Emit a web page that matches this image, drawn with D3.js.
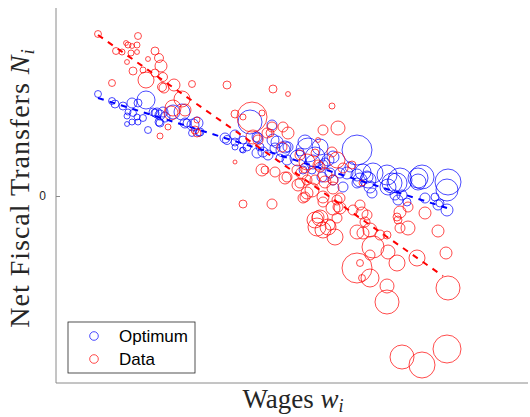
<!DOCTYPE html>
<html>
<head>
<meta charset="utf-8">
<script src="https://cdn.jsdelivr.net/npm/d3@7"></script>
<style>
    body { margin: 0; background: #fff; }
    #chart { width: 530px; height: 417px; }
    .axis-line { stroke: #8a8a8a; stroke-width: 1; }
    .tick-label { font-family: Arial, "Liberation Sans", sans-serif; font-size: 12px; fill: #262626; }
    .ax-title { font-family: "Liberation Serif", "Times New Roman", serif; font-size: 27px; fill: #262626; }
    .legend-text { font-family: Arial, "Liberation Sans", sans-serif; font-size: 17px; fill: #000; }
</style>
</head>
<body>
<div id="chart"></div>
<script>

// regions: [wage, net fiscal transfer, population]
let optimum = [
    [0.42, 1.02, 12], [0.56, 0.95, 12], [0.59, 0.92, 16], [0.67, 0.90, 16], [0.76, 0.93, 25],
    [0.82, 0.93, 16], [0.90, 0.96, 81], [0.72, 0.84, 9], [0.71, 0.80, 9], [0.77, 0.83, 12],
    [0.81, 0.79, 9], [0.76, 0.74, 9], [0.71, 0.72, 6], [0.82, 0.74, 9], [0.87, 0.78, 12],
    [0.92, 0.66, 12], [0.97, 0.84, 16], [1.01, 0.83, 25], [1.04, 0.81, 25], [1.09, 0.79, 25],
    [1.04, 0.73, 16], [1.07, 0.84, 25], [1.17, 0.84, 49], [1.26, 0.84, 64], [1.29, 0.73, 25],
    [1.37, 0.71, 36], [1.41, 0.73, 36], [1.36, 0.63, 12], [1.44, 0.64, 16], [1.69, 0.58, 25],
    [1.79, 0.54, 16], [1.87, 0.56, 16], [1.87, 0.46, 9], [1.94, 0.74, 144], [2.02, 0.58, 25],
    [2.16, 0.71, 25], [2.21, 0.54, 36], [2.29, 0.49, 36], [2.01, 0.43, 25], [2.12, 0.41, 25],
    [1.91, 0.49, 16], [2.07, 0.44, 25], [2.17, 0.56, 36], [2.19, 0.48, 25], [2.27, 0.46, 49],
    [2.32, 0.49, 25], [2.24, 0.38, 16], [2.31, 0.36, 25], [2.42, 0.38, 64], [2.52, 0.46, 144],
    [2.64, 0.49, 64], [2.57, 0.34, 49], [2.67, 0.31, 25], [2.72, 0.36, 36], [2.74, 0.23, 25],
    [2.77, 0.16, 25], [2.84, 0.23, 25], [2.87, 0.09, 25], [2.66, 0.19, 25], [2.56, 0.26, 16],
    [2.47, 0.26, 16], [2.49, 0.54, 49], [2.44, 0.44, 16], [2.59, 0.39, 100], [3.01, 0.46, 225],
    [2.77, 0.39, 36], [2.69, 0.33, 25], [2.94, 0.29, 25], [3.01, 0.21, 36], [3.11, 0.19, 36],
    [3.17, 0.23, 100], [3.31, 0.21, 100], [3.44, 0.16, 144], [3.62, 0.18, 100], [3.66, 0.19, 144],
    [3.92, 0.14, 169], [3.91, 0.06, 121], [3.36, 0.13, 100], [3.12, 0.16, 64], [3.07, 0.24, 64],
    [3.04, 0.16, 49], [3.14, 0.09, 36], [3.16, 0.03, 25], [3.01, 0.13, 25], [2.91, 0.23, 36],
    [3.32, 0.09, 64], [3.41, 0.13, 100], [3.46, 0.01, 25], [3.42, -0.04, 25], [3.51, -0.06, 16],
    [3.69, -0.02, 25], [3.82, -0.09, 25], [3.91, -0.14, 36], [3.84, -0.07, 16], [3.62, 0.14, 64],
    [1.79, 0.61, 25], [2.01, 0.59, 25], [2.04, 0.49, 16], [1.86, 0.46, 6], [1.79, 0.49, 9],
    [1.71, 0.56, 20], [1.43, 0.63, 12], [1.03, 0.74, 16], [0.99, 0.83, 16], [1.31, 0.73, 16],
    [3.39, 0.01, 25], [3.79, -0.01, 16]
];

let data = [
    [0.42, 1.62, 12], [0.82, 1.60, 12], [0.70, 1.53, 6], [0.72, 1.51, 9], [0.76, 1.50, 6],
    [0.81, 1.51, 9], [0.60, 1.45, 12], [0.66, 1.44, 9], [0.75, 1.43, 9], [0.81, 1.44, 6],
    [0.99, 1.45, 16], [0.71, 1.34, 6], [1.03, 1.38, 20], [0.92, 1.37, 6], [1.05, 1.30, 36],
    [0.77, 1.25, 16], [0.87, 1.26, 9], [0.99, 1.23, 16], [0.90, 1.16, 64], [1.07, 1.19, 20],
    [1.06, 1.09, 20], [1.08, 1.08, 25], [1.18, 1.11, 36], [1.36, 1.12, 12], [0.56, 1.13, 12],
    [1.71, 1.11, 16], [1.26, 0.97, 64], [1.15, 0.83, 49], [1.29, 0.86, 36], [1.41, 0.76, 9],
    [1.41, 0.63, 16], [1.04, 0.60, 9], [1.12, 0.69, 9], [1.39, 0.66, 16], [2.17, 1.07, 16],
    [2.32, 1.02, 6], [2.76, 0.90, 9], [1.96, 0.79, 225], [1.79, 0.82, 16], [2.06, 0.83, 9],
    [2.16, 0.69, 25], [2.27, 0.69, 25], [2.14, 0.63, 16], [2.67, 0.66, 25], [2.82, 0.68, 49],
    [2.02, 0.56, 25], [2.26, 0.49, 25], [2.06, 0.26, 36], [2.19, 0.24, 25], [1.79, 0.34, 4],
    [2.44, 0.41, 25], [2.51, 0.34, 64], [2.41, 0.26, 25], [2.31, 0.19, 25], [2.62, 0.56, 6],
    [2.59, 0.43, 16], [2.76, 0.44, 25], [2.81, 0.36, 64], [2.96, 0.31, 16], [3.06, 0.13, 9],
    [2.87, 0.28, 25], [2.62, 0.31, 25], [2.69, 0.21, 49], [2.49, 0.28, 25], [2.51, 0.16, 25],
    [2.56, 0.06, 49], [2.67, -0.01, 36], [2.77, 0.08, 36], [2.84, -0.02, 25], [3.04, -0.09, 25],
    [2.77, -0.12, 49], [2.97, -0.14, 25], [3.11, -0.19, 25], [3.44, -0.16, 36], [3.52, -0.11, 25],
    [3.69, -0.17, 36], [2.62, -0.21, 36], [2.47, -0.02, 25], [1.87, -0.08, 16], [2.16, -0.08, 25],
    [2.29, 0.18, 36], [2.46, 0.23, 36], [2.44, 0.13, 25], [2.49, -0.01, 25], [2.64, -0.22, 64],
    [2.61, -0.31, 81], [2.67, -0.34, 64], [2.72, -0.31, 64], [2.79, -0.41, 64], [2.74, -0.29, 25],
    [2.82, -0.11, 25], [3.06, -0.17, 36], [3.09, -0.26, 25], [3.07, -0.37, 36], [3.01, -0.36, 49],
    [3.14, -0.34, 49], [3.24, -0.39, 25], [3.31, -0.39, 16], [3.17, -0.51, 121], [3.14, -0.59, 25],
    [3.32, -0.56, 49], [3.41, -0.67, 64], [3.01, -0.72, 225], [3.04, -0.67, 12], [3.06, -0.82, 12],
    [3.14, -0.82, 81], [3.31, -0.90, 49], [3.31, -1.06, 144], [3.61, -0.62, 64], [3.82, -0.35, 36],
    [3.90, -0.57, 36], [3.92, -0.92, 144], [3.46, -1.61, 144], [3.66, -1.69, 169], [3.91, -1.53, 196],
    [3.41, -0.21, 16], [3.42, -0.24, 16], [3.44, -0.32, 25], [3.52, -0.32, 49], [2.67, -0.06, 25],
    [2.09, 0.26, 16], [2.42, 0.11, 36], [2.51, 0.03, 36], [2.59, 0.16, 25], [2.64, 0.29, 25],
    [2.69, 0.14, 36], [2.77, 0.16, 25], [2.81, -0.04, 25], [2.84, -0.12, 36], [2.81, -0.22, 25],
    [2.59, -0.24, 64], [2.32, 0.63, 36], [2.11, 0.63, 25], [1.97, 0.59, 49], [1.17, 0.88, 64],
    [1.87, 0.79, 9]
];

// fitted lines (start / end)
let optimumFit = [[0.42, 0.98], [3.91, -0.12]];
let dataFit = [[0.42, 1.61], [3.87, -0.80]];

let yTicks = [0];
let seriesNames = ["Optimum", "Data"];
let seriesColors = ["#0000ff", "#ff0000"];

// set margins
let margin = {top: 8, right: 2, bottom: 34, left: 56};
let width = 530 - margin.left - margin.right;
let height = 417 - margin.top - margin.bottom;

let svg = d3.select("#chart").append("svg")
    .attr("width", 530)
    .attr("height", 417);

let g = svg.append("g")
    .attr("transform", `translate(${margin.left},${margin.top})`);

// scales
let x = d3.scaleLinear().domain([0, 4.72]).range([0, width]);
let y = d3.scaleLinear().domain([-1.87, 1.88]).range([height, 0]);
let r = d3.scaleSqrt().domain([0, 225]).range([0, 15]);

// axes (no box, only left and bottom)
g.append("line").attr("class", "axis-line")
    .attr("x1", 0).attr("x2", 0).attr("y1", 0).attr("y2", height);
g.append("line").attr("class", "axis-line")
    .attr("x1", 0).attr("x2", width).attr("y1", height).attr("y2", height);

let yAxis = g.append("g")
    .call(d3.axisLeft(y).tickValues(yTicks).tickSize(-4).tickPadding(10).tickFormat(d3.format("d")));
yAxis.select(".domain").remove();
yAxis.selectAll("line").attr("stroke", "#8a8a8a");
yAxis.selectAll("text").attr("class", "tick-label").attr("font-family", null).attr("font-size", null);

// scatter
let series = [optimum, data];
series.forEach((s, i) => {
    g.append("g").selectAll("circle")
        .data(s)
        .enter()
        .append("circle")
        .attr("cx", d => x(d[0]))
        .attr("cy", d => y(d[1]))
        .attr("r", d => r(d[2]))
        .attr("fill", "none")
        .attr("stroke", seriesColors[i])
        .attr("stroke-opacity", 0.7)
        .attr("stroke-width", 1);
});

// dashed fit lines
let line = d3.line().x(d => x(d[0])).y(d => y(d[1]));
[optimumFit, dataFit].forEach((f, i) => {
    g.append("path")
        .attr("d", line(f))
        .attr("fill", "none")
        .attr("stroke", seriesColors[i])
        .attr("stroke-width", 2)
        .attr("stroke-dasharray", "6,6");
});

// axis titles
svg.append("text")
    .attr("class", "ax-title")
    .attr("x", 293)
    .attr("y", 408)
    .attr("text-anchor", "middle")
    .html('Wages <tspan font-style="italic">w</tspan><tspan font-style="italic" font-size="18" dy="4">i</tspan>');

svg.append("text")
    .attr("class", "ax-title")
    .attr("transform", "translate(29,188) rotate(-90)")
    .attr("text-anchor", "middle")
    .style("font-size", "28px")
    .style("letter-spacing", "1px")
    .html('Net Fiscal Transfers <tspan font-style="italic">N</tspan><tspan font-style="italic" font-size="19" dy="5">i</tspan>');

// legend
let legend = svg.append("g").attr("transform", "translate(68,322)");
legend.append("rect")
    .attr("width", 127).attr("height", 51)
    .attr("fill", "#fff").attr("stroke", "#262626").attr("stroke-width", 0.8);
seriesNames.forEach((name, i) => {
    legend.append("circle")
        .attr("cx", 26).attr("cy", 14 + i * 23).attr("r", 4.3)
        .attr("fill", "none").attr("stroke", seriesColors[i]).attr("stroke-opacity", 0.7);
    legend.append("text")
        .attr("class", "legend-text")
        .attr("x", 51).attr("y", 20 + i * 23)
        .text(name);
});
</script>
</body>
</html>
